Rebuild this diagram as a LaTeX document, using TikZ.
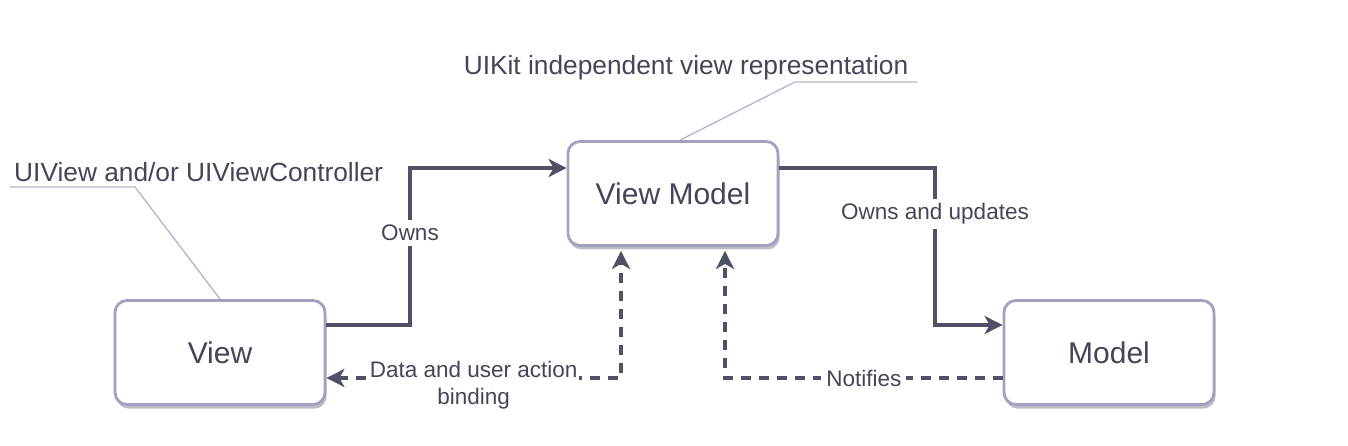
\documentclass[tikz,border=0pt]{standalone}
\usepackage{fontspec}
\setmainfont{Liberation Sans}
\usetikzlibrary{arrows.meta,shadows,calc}
\definecolor{txt}{HTML}{45455A}
\definecolor{edgec}{HTML}{505066}
\definecolor{boxc}{HTML}{A2A2C0}
\definecolor{annc}{HTML}{B4B4CC}
\definecolor{shadc}{HTML}{A8A8B4}
\tikzset{
  box/.style={draw=boxc, line width=2.8pt, rounded corners=12pt, fill=white,
    minimum width=210pt, minimum height=104pt, text=txt,
    font=\fontsize{30}{36}\selectfont,
    drop shadow={shadow xshift=1.5pt, shadow yshift=-4pt, opacity=0.75, fill=shadc}},
  edge/.style={draw=edgec, line width=3.2pt, -{Stealth[length=18pt,width=18pt,inset=5pt]}},
  dedge/.style={draw=edgec, line width=3.2pt, dash pattern=on 10pt off 8pt},
  lbl/.style={fill=white, text=txt, inner xsep=5pt, inner ysep=5pt, font=\fontsize{22.5}{27}\selectfont, align=center},
  ann/.style={text=txt, inner sep=0pt, font=\fontsize{26.3}{31}\selectfont},
  annline/.style={draw=annc, line width=1.3pt}
}
\begin{document}
\begin{tikzpicture}[x=1pt,y=-1pt]
\useasboundingbox (0,0) rectangle (1348,446);
\fill[white] (0,0) rectangle (1348,446);
% nodes
\node[box] (v) at (220,352.5) {View};
\node[box] (vm) at (673,193.5) {View Model};
\node[box] (m) at (1109,352.5) {Model};
% annotations
\node[ann, anchor=west] (t1) at (14,172) {UIView and/or UIViewController};
\node[ann] (t2) at (686,68) {UIKit independent view representation};
\coordinate (a1) at (10,187);
\coordinate (a2) at (135,187);
\coordinate (b1) at (917,82);
\coordinate (b2) at (795,82);
\draw[annline] (a1) -- (a2) -- (v.north);
\draw[annline] (b1) -- (b2) -- ([xshift=7pt]vm.north);
% owns
\coordinate (o1) at (410,233);
\draw[edge] ([yshift=27.5pt]v.east) -| (o1) |- ([yshift=25.5pt]vm.west);
\node[lbl] at (o1) {Owns};
% owns and updates
\coordinate (o2) at (935,214);
\draw[edge] ([yshift=25.5pt]vm.east) -| (o2) |- ([yshift=27.5pt]m.west);
\node[lbl, inner xsep=1.5pt] at (o2) {Owns and updates};
% data binding
\coordinate (d1) at (621,378);
\draw[dedge, {Stealth[length=18pt,width=18pt,inset=5pt]}-{Stealth[length=18pt,width=18pt,inset=5pt]}, shorten >=4pt]
  ([yshift=-25.5pt]v.east) -- node[lbl, inner sep=1.5pt, yshift=-7pt] {Data and user action\\binding} (d1) -- (d1 |- vm.south);
% notifies
\coordinate (d2) at (725,378);
\draw[dedge, -{Stealth[length=18pt,width=18pt,inset=5pt]}, shorten >=4pt]
  ([yshift=-25.5pt]m.west) -- node[lbl] {Notifies} (d2) -- (d2 |- vm.south);
\end{tikzpicture}
\end{document}
